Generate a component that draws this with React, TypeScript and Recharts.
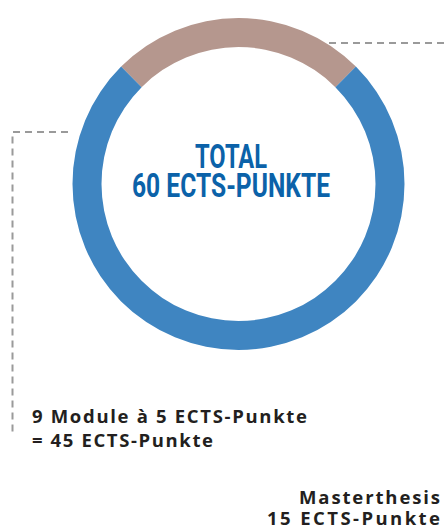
import { PieChart, Pie, Cell } from 'recharts'

// ECTS split of the programme
const SEGMENTS = ['Masterthesis', 'Module']
const POINTS = [15, 45]
const SEG_COLORS = ['#b5978e', '#3f85c1']

const CENTER_LINES = ['TOTAL', '60 ECTS-PUNKTE']
const MODULE_LINES = ['9 Module à 5 ECTS-Punkte', '= 45 ECTS-Punkte']
const THESIS_LINES = ['Masterthesis', '15 ECTS-Punkte']

const W = 448
const H = 531

const chartData = SEGMENTS.map((name, i) => ({ name, value: POINTS[i] }))

const labelFont = "'Open Sans', sans-serif"
const dash = { stroke: '#9a9a9a', strokeWidth: 2, strokeDasharray: '7 5', fill: 'none' }

const moduleWidths = [275, 181]
const thesisWidths = [141, 173]

export default function App() {
  return (
    <div style={{ position: 'absolute', left: 0, top: 0, width: W, height: H, background: '#fff' }}>
      <PieChart width={W} height={H}>
        <Pie
          data={chartData}
          dataKey="value"
          cx={233.5}
          cy={179}
          innerRadius={137}
          outerRadius={166}
          startAngle={135}
          endAngle={-225}
          stroke="none"
          isAnimationActive={false}
        >
          {chartData.map((_, i) => (
            <Cell key={i} fill={SEG_COLORS[i]} />
          ))}
        </Pie>
      </PieChart>
      <svg width={W} height={H} style={{ position: 'absolute', left: 0, top: 0, pointerEvents: 'none' }}>
        {/* leader lines */}
        <polyline points="329,43 448,43" {...dash} />
        <polyline points="68,132 12.5,132 12.5,436" {...dash} />

        {/* centre caption */}
        <text x={231} y={168} textAnchor="middle" fill="#0b62a9" fontFamily="Roboto, sans-serif"
          fontWeight={700} fontSize={33} textLength={72} lengthAdjust="spacingAndGlyphs">
          {CENTER_LINES[0]}
        </text>
        <text x={231} y={197} textAnchor="middle" fill="#0b62a9" fontFamily="Roboto, sans-serif"
          fontWeight={700} fontSize={33} textLength={198} lengthAdjust="spacingAndGlyphs">
          {CENTER_LINES[1]}
        </text>

        {/* module label */}
        {MODULE_LINES.map((t, i) => (
          <text key={t} x={32} y={423 + i * 24} fill="#231f20" fontFamily={labelFont} fontWeight={700}
            fontSize={18.5} textLength={moduleWidths[i]} lengthAdjust="spacing">
            {t}
          </text>
        ))}

        {/* thesis label */}
        {THESIS_LINES.map((t, i) => (
          <text key={t} x={440 - thesisWidths[i]} y={504 + i * 21} fill="#231f20" fontFamily={labelFont}
            fontWeight={700} fontSize={18.5} textLength={thesisWidths[i]} lengthAdjust="spacing">
            {t}
          </text>
        ))}
      </svg>
    </div>
  )
}
